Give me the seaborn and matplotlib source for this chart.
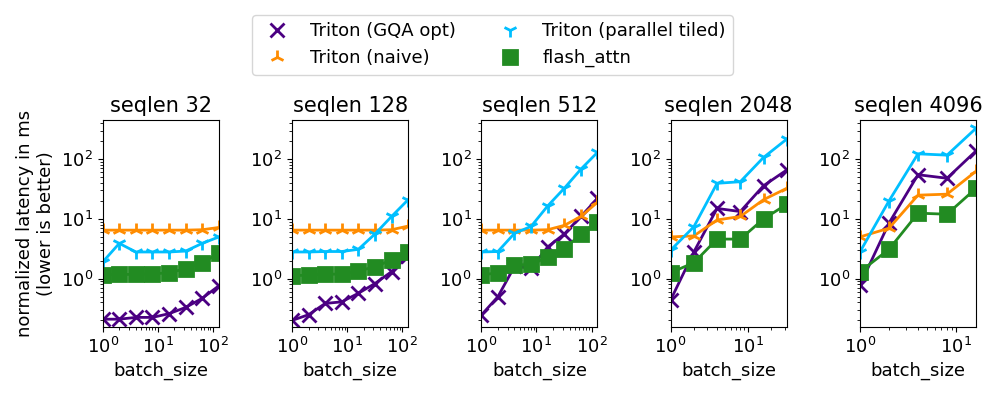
import numpy as np
import pandas as pd
import seaborn as sns
from matplotlib import pyplot as plt
from matplotlib.lines import Line2D

# batch sizes for each seqlen panel
seqlens = [32, 128, 512, 2048, 4096]
batch_sizes = {
    32: [1, 2, 4, 8, 16, 32, 64, 128],
    128: [1, 2, 4, 8, 16, 32, 64, 128],
    512: [1, 2, 4, 8, 16, 32, 64, 128],
    2048: [1, 2, 4, 8, 16, 32],
    4096: [1, 2, 4, 8, 16],
}

# latency values (ms, normalized)
gqa_opt = {
    32: [0.21, 0.21, 0.225, 0.225, 0.26, 0.33, 0.47, 0.76],
    128: [0.2, 0.25, 0.385, 0.41, 0.57, 0.83, 1.31, 2.4],
    512: [0.246, 0.5, 1.6, 1.5, 3.4, 5.6, 11, 22],
    2048: [0.44, 2.8, 15, 13.3, 36, 66],
    4096: [0.78, 8.5, 55, 48, 138],
}
naive = {
    32: [6.5, 6.5, 6.5, 6.5, 6.5, 6.5, 6.6, 7.2],
    128: [6.5, 6.5, 6.5, 6.5, 6.5, 6.5, 6.6, 7.6],
    512: [6.5, 6.5, 6.5, 6.5, 6.6, 7.8, 11, 19],
    2048: [5.0, 5.2, 9.6, 11, 21, 32.6],
    4096: [5.0, 7.0, 25, 26, 63],
}
parallel_tiled = {
    32: [1.9, 3.9, 2.8, 2.8, 2.8, 2.9, 3.9, 5.0],
    128: [2.8, 2.8, 2.85, 2.85, 3.1, 5.6, 11, 21],
    512: [2.8, 2.85, 5.75, 7.5, 16.5, 32.6, 68, 130],
    2048: [3.0, 7.4, 39.5, 42, 107, 217],
    4096: [2.8, 20, 123, 117, 330],
}
flash_attn = {
    32: [1.15, 1.18, 1.18, 1.2, 1.26, 1.47, 1.85, 2.65],
    128: [1.12, 1.15, 1.18, 1.2, 1.34, 1.59, 2.05, 2.85],
    512: [1.15, 1.26, 1.67, 1.76, 2.27, 3.2, 5.5, 9.0],
    2048: [1.26, 1.85, 4.6, 4.6, 10, 17.6],
    4096: [1.3, 3.1, 12.5, 12, 32.6],
}

series = [
    ("Triton (GQA opt)", gqa_opt, "indigo", "x"),
    ("Triton (naive)", naive, "darkorange", "2"),
    ("Triton (parallel tiled)", parallel_tiled, "deepskyblue", "1"),
    ("flash_attn", flash_attn, "forestgreen", "s"),
]

rows = []
for name, vals, _, _ in series:
    for s in seqlens:
        for b, v in zip(batch_sizes[s], vals[s]):
            rows.append({"method": name, "seqlen": s, "batch_size": b, "latency": v})
df = pd.DataFrame(rows)

fig, axes = plt.subplots(1, 5, figsize=(9.97, 3.97), dpi=100, sharey=True)
fig.subplots_adjust(left=0.103, right=0.979, top=0.698, bottom=0.177, wspace=0.63)

for ax, s in zip(axes, seqlens):
    for name, _, color, marker in series:
        d = df[(df.method == name) & (df.seqlen == s)]
        sns.lineplot(data=d, x="batch_size", y="latency", ax=ax, color=color,
                     marker=marker, markersize=10, markeredgewidth=2,
                     markeredgecolor=color, linewidth=2, errorbar=None)
    ax.set_xscale("log")
    ax.set_yscale("log")
    ax.set_xlim(1, max(batch_sizes[s]))
    ax.set_ylim(0.157, 455)
    ax.set_title(f"seqlen {s}", fontsize=15)
    ax.set_xlabel("batch_size", fontsize=13)
    ax.set_ylabel("")
    ax.tick_params(labelsize=13)
    ax.yaxis.set_tick_params(labelleft=True)

axes[0].set_ylabel("normalized latency in ms\n(lower is better)", fontsize=13)

handles = [Line2D([], [], color=c, marker=m, linestyle="none", markersize=10,
                  markeredgewidth=2) for _, _, c, m in series]
labels = [n for n, _, _, _ in series]
fig.legend(handles, labels, loc="upper center", ncol=2, fontsize=13,
           bbox_to_anchor=(0.494, 0.985))

fig.savefig("out.png", dpi=100)
